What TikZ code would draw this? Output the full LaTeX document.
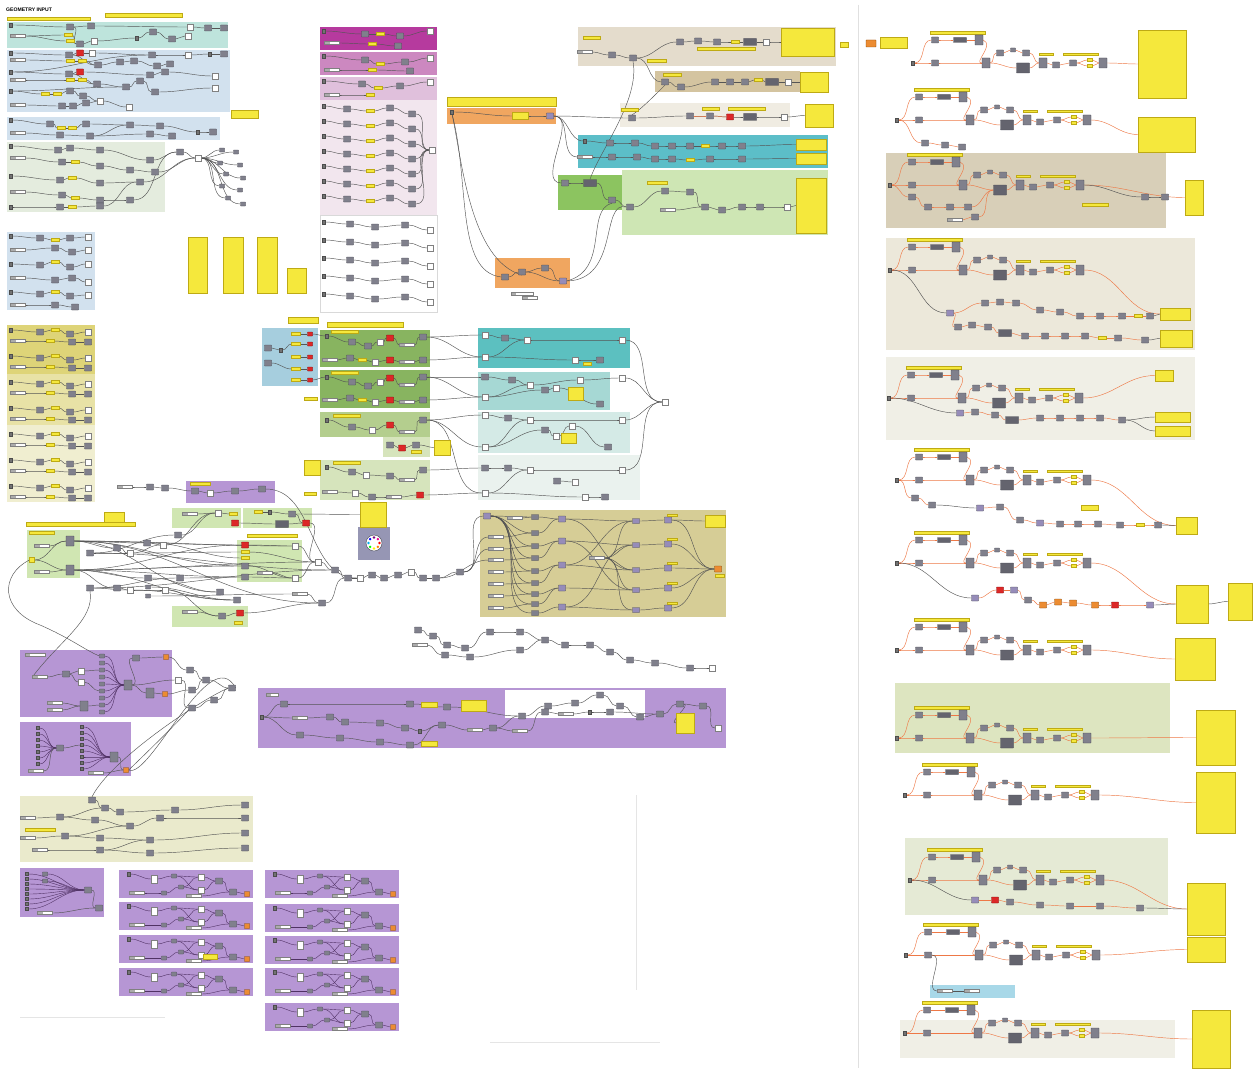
\documentclass[tikz,border=0pt]{standalone}
\usepackage{fontspec}
\usepackage{etoolbox}
\setmainfont{Liberation Sans}
\pgfdeclarelayer{grp}
\pgfdeclarelayer{wires}
\pgfsetlayers{grp,wires,main}
\definecolor{teal1}{RGB}{190,228,220}
\definecolor{blue1}{RGB}{210,225,238}
\definecolor{green0}{RGB}{228,236,222}
\definecolor{yel1}{RGB}{222,212,120}
\definecolor{yel2}{RGB}{232,226,166}
\definecolor{yel3}{RGB}{240,238,208}
\definecolor{mag1}{RGB}{182,58,158}
\definecolor{mag2}{RGB}{204,136,192}
\definecolor{mag3}{RGB}{224,192,220}
\definecolor{pink1}{RGB}{242,230,238}
\definecolor{orng}{RGB}{240,166,96}
\definecolor{tan1}{RGB}{228,220,204}
\definecolor{tan2}{RGB}{212,196,160}
\definecolor{tan3}{RGB}{240,236,226}
\definecolor{tealA}{RGB}{92,190,200}
\definecolor{greenA}{RGB}{140,196,96}
\definecolor{greenB}{RGB}{206,230,180}
\definecolor{blue2}{RGB}{166,206,222}
\definecolor{green2}{RGB}{136,180,96}
\definecolor{green3}{RGB}{180,206,142}
\definecolor{green4}{RGB}{214,228,188}
\definecolor{tealB}{RGB}{92,192,192}
\definecolor{tealC}{RGB}{166,216,212}
\definecolor{tealD}{RGB}{212,234,230}
\definecolor{tealE}{RGB}{234,242,238}
\definecolor{purp}{RGB}{182,150,212}
\definecolor{olv}{RGB}{214,205,150}
\definecolor{lgreen}{RGB}{208,230,178}
\definecolor{olv2}{RGB}{234,234,204}
\definecolor{rtan}{RGB}{216,207,184}
\definecolor{rtan2}{RGB}{236,232,218}
\definecolor{rgray}{RGB}{240,239,230}
\definecolor{rolv}{RGB}{221,229,192}
\definecolor{rolv2}{RGB}{229,234,213}
\definecolor{rblue}{RGB}{168,216,232}
\definecolor{yellowp}{RGB}{245,232,60}
\definecolor{panb}{RGB}{190,170,20}
\definecolor{compc}{RGB}{128,128,140}
\definecolor{compd}{RGB}{100,100,110}
\definecolor{compb}{RGB}{70,70,80}
\definecolor{wirec}{RGB}{85,85,85}
\definecolor{orwire}{RGB}{238,120,70}
\definecolor{redc}{RGB}{220,40,40}
\definecolor{orgc}{RGB}{236,140,50}
\definecolor{purc}{RGB}{150,140,185}
\definecolor{pwc}{RGB}{80,50,100}
\definecolor{gaugeg}{RGB}{150,150,180}
\tikzset{
 gcomp/.style={draw=compb,fill=compc,line width=0.3mm,minimum width=7mm,minimum height=6mm,inner sep=0pt,rounded corners=0.4mm},
 gsm/.style={gcomp,minimum width=5mm,minimum height=4mm},
 gcw/.style={gcomp,fill=compd,minimum width=13mm,minimum height=7mm},
 gtall/.style={gcomp,minimum width=8mm,minimum height=10mm},
 gpur/.style={gcomp,fill=purc},
 gred/.style={gcomp,fill=redc,draw=red!50!black},
 gorg/.style={gcomp,fill=orgc,draw=orange!50!black},
 gpan/.style={draw=panb,fill=yellowp,line width=0.2mm,minimum width=8mm,minimum height=3mm,inner sep=0pt},
 gwht/.style={draw=gray,fill=white,line width=0.3mm,minimum width=6mm,minimum height=6mm,inner sep=0pt},
 gdot/.style={draw=black!70,fill=black!55,minimum width=3mm,minimum height=4mm,inner sep=0pt},
 gsld/.style={draw=gray,fill=white,line width=0.3mm,minimum width=15mm,minimum height=3mm,inner sep=0pt,
   path picture={\fill[gray!65] (path picture bounding box.south west) rectangle ([xshift=5mm]path picture bounding box.north west);}},
 gbig/.style={draw=panb,fill=yellowp,line width=0.3mm,inner sep=0pt},
 gwire/.style={draw=wirec,line width=0.45mm},
 owire/.style={draw=orwire,line width=0.45mm},
 pwire/.style={draw=pwc,line width=0.4mm},
}
\newcommand\allwires{}
\newcommand\allgrps{}
\newcommand\dgrp[5]{\xappto\allgrps{\noexpand\fill[#5] (#1,#2) rectangle (#3,#4);}}
\newcommand\dwire[3][gwire]{\xappto\allwires{\noexpand\draw[#1] (#2.east) to[out=0,in=180] (#3.west);}}
\newcommand\dchain[3][gwire]{%
 \foreach \px/\py/\st [count=\ci] in {#3}{\node[\st] (#2-\ci) at (\px,\py) {};}%
 \foreach \px/\py/\st [count=\ci, remember=\ci as \cj (initially 0)] in {#3}{\ifnum\ci>1 \dwire[#1]{#2-\cj}{#2-\ci}\fi}%
}
\newcommand\dybox[6][gbig]{\pgfmathsetmacro\bw{#5-#3}\pgfmathsetmacro\bh{#6-#4}\node[#1,minimum width=\bw mm,minimum height=\bh mm] (#2) at ({(#3+#5)/2},{(#4+#6)/2}) {};}
\newcommand\dsec[4]{%
 \node[gpan,minimum width=55mm] (#1-t) at (#2+45,#3-30) {};
 \node[gdot] (#1-a) at (#2,#3) {};
 \node[gcomp] (#1-b) at (#2+22,#3-23) {};
 \node[gcw,minimum height=5mm] (#1-c) at (#2+47,#3-23) {};
 \node[gtall] (#1-d) at (#2+66,#3-23) {};
 \node[gcomp] (#1-e) at (#2+22,#3) {};
 \node[gtall] (#1-f) at (#2+73,#3) {};
 \node[gcomp] (#1-g) at (#2+87,#3-10) {};
 \node[gsm] (#1-h) at (#2+100,#3-13) {};
 \node[gcomp] (#1-i) at (#2+113,#3-10) {};
 \node[gcw,minimum height=10mm] (#1-j) at (#2+110,#3+5) {};
 \node[gtall] (#1-k) at (#2+130,#3) {};
 \node[gcomp] (#1-l) at (#2+143,#3+2) {};
 \node[gcomp] (#1-m) at (#2+160,#3) {};
 \node[gpan,minimum width=5mm] (#1-p) at (#2+177,#3-3) {};
 \node[gpan,minimum width=5mm] (#1-r) at (#2+177,#3+3) {};
 \node[gtall] (#1-q) at (#2+190,#3) {};
 \node[gpan,minimum width=14mm,minimum height=2.5mm] (#1-u) at (#2+133,#3-9) {};
 \node[gpan,minimum width=35mm,minimum height=2.5mm] (#1-v) at (#2+168,#3-9) {};
 \dwire[owire]{#1-a}{#1-b}\dwire[owire]{#1-a}{#1-e}\dwire[owire]{#1-b}{#1-c}\dwire[owire]{#1-c}{#1-d}
 \xappto\allwires{\noexpand\draw[owire] (#1-d.east) .. controls (#2+82,#3-18) and (#2+60,#3) .. (#1-f.west);}
 \dwire[owire]{#1-e}{#1-f}\dwire[owire]{#1-f}{#1-g}\dwire[owire]{#1-g}{#1-h}\dwire[owire]{#1-h}{#1-i}
 \dwire[owire]{#1-f}{#1-j}\dwire[owire]{#1-j}{#1-k}\dwire[owire]{#1-i}{#1-k}\dwire[owire]{#1-k}{#1-l}
 \dwire[owire]{#1-l}{#1-m}\dwire[owire]{#1-m}{#1-p}\dwire[owire]{#1-m}{#1-r}\dwire[owire]{#1-p}{#1-q}
 \dwire[owire]{#1-r}{#1-q}\dwire[owire]{#1-q}{#4}}
\newcommand\dstack[3]{%
 \xappto\allgrps{\noexpand\fill[purp] (#2,#3) rectangle (#2+134,#3+28);}
 \node[gdot] (#1-a) at (#2+10,#3+4) {};
 \node[gwht,minimum height=8mm] (#1-b) at (#2+35,#3+9) {};
 \node[gsm] (#1-c) at (#2+55,#3+6) {};
 \node[gwht] (#1-d) at (#2+82,#3+7) {};
 \node[gwht] (#1-e) at (#2+82,#3+20) {};
 \node[gcomp] (#1-f) at (#2+100,#3+11) {};
 \node[gsld] (#1-g) at (#2+18,#3+23) {};
 \node[gsm] (#1-h) at (#2+45,#3+23) {};
 \node[gsm] (#1-i) at (#2+62,#3+17) {};
 \node[gsld] (#1-j) at (#2+75,#3+26) {};
 \node[gcomp] (#1-k) at (#2+114,#3+22) {};
 \node[gorg,minimum width=5mm,minimum height=5mm] (#1-l) at (#2+128,#3+24) {};
 \dwire[pwire]{#1-a}{#1-b}\dwire[pwire]{#1-b}{#1-c}\dwire[pwire]{#1-c}{#1-d}\dwire[pwire]{#1-c}{#1-e}
 \dwire[pwire]{#1-i}{#1-d}\dwire[pwire]{#1-i}{#1-e}\dwire[pwire]{#1-d}{#1-f}\dwire[pwire]{#1-e}{#1-f}
 \dwire[pwire]{#1-g}{#1-h}\dwire[pwire]{#1-h}{#1-i}\dwire[pwire]{#1-f}{#1-k}\dwire[pwire]{#1-j}{#1-k}
 \dwire[pwire]{#1-k}{#1-l}}
\begin{document}
\begin{tikzpicture}[x=1mm,y=-1mm]
\useasboundingbox (0,0) rectangle (1257,1070);
\node[anchor=west,font=\bfseries\fontsize{14.5}{16}\selectfont] (title) at (5,10) {GEOMETRY INPUT};
% ================= LEFT COLUMN =================
\dybox{yt1}{7}{17}{90}{20}
\dybox{yt2}{105}{13}{182}{17}
\dgrp{7}{22}{228}{48}{teal1}
\dchain{c1}{11/25/gdot,70/27/gcomp,91/26/gcomp,190/27/gwht,208/28/gcomp,224/28/gcomp}
\dchain{c2}{18/36/gsld,68/35/gpan,80/44/gcomp,94/41/gwht,137/38/gdot,153/32/gcomp,172/39/gcomp,188/36/gwht}
\node[gpan] (c2x) at (70,41) {};
\dwire{c1-2}{c2-3}\dwire{c2-1}{c2x}
\dgrp{7}{50}{230}{112}{blue1}
\dchain{c3}{11/53/gdot,69/55/gcomp,80/53/gred,92/53/gwht,152/55/gcomp,188/55/gwht,210/54/gdot,224/54/gcomp}
\dchain{c4}{18/60/gsld,70/61/gpan,82/61/gpan,98/65/gcomp,120/62/gcomp,134/61/gcomp,157/66/gcomp,170/64/gcomp}
\dchain{c5}{11/72/gdot,69/74/gcomp,80/72/gred,150/75/gcomp,165/72/gcomp,215/76/gwht}
\dchain{c6}{18/80/gsld,70/80/gpan,82/80/gpan,97/84/gcomp,126/87/gcomp,140/81/gcomp,155/92/gcomp,215/88/gwht}
\dchain{c7}{11/91/gdot,45/94/gpan,57/94/gpan,70/91/gcomp,83/96/gcomp,100/101/gwht,129/107/gwht}
\dchain{c8}{18/105/gsld,62/106/gcomp,73/106/gcomp,86/103/gcomp}
\dwire{c5-1}{c3-5}\dwire{c7-1}{c6-5}\dwire{c3-2}{c4-4}\dwire{c5-2}{c6-4}\dwire{c8-4}{c7-6}
\dgrp{7}{117}{220}{140}{blue1}
\dchain{c9}{11/120/gdot,50/124/gcomp,61/128/gpan,72/128/gpan,86/124/gcomp,130/125/gcomp,160/126/gcomp,198/132/gdot,213/132/gcomp}
\dchain{c10}{18/133/gsld,60/135/gcomp,90/136/gcomp,150/134/gcomp,172/136/gcomp}
\dwire{c10-3}{c9-6}
\dybox{ysm1}{231}{110}{258}{118}
\dgrp{7}{142}{165}{212}{green0}
\dchain{c11}{11/146/gdot,58/150/gcomp,70/148/gcomp,100/150/gcomp,150/160/gcomp,180/152/gcomp,198/158/gwht}
\dchain{c12}{18/158/gsld,62/162/gcomp,75/162/gpan,100/166/gcomp,130/170/gcomp,155/172/gcomp}
\dchain{c13}{11/176/gdot,60/180/gcomp,72/178/gpan,100/183/gcomp,140/182/gcomp}
\dchain{c14}{18/192/gsld,62/195/gcomp,75/198/gpan,100/200/gcomp,130/200/gcomp}
\dchain{c15}{11/207/gdot,60/207/gcomp,72/207/gpan,100/206/gcomp}
\dwire{c12-6}{c11-7}\dwire{c13-5}{c11-7}\dwire{c14-5}{c11-6}\dwire{c15-4}{c13-5}
\foreach \xx/\yy [count=\k] in {222/150,236/152,220/163,240/165,226/174,243/178,222/186,240/190,228/198,243/204}{\node[gsm] (fn\k) at (\xx,\yy) {}; \dwire{c11-7}{fn\k}}
\dgrp{7}{232}{95}{310}{blue1}
\dchain{c16}{11/236/gdot,40/238/gcomp,55/240/gpan,70/238/gcomp,88/237/gwht}
\dchain{c17}{18/250/gsld,55/248/gcomp,72/252/gcomp,88/250/gwht}
\dchain{c18}{11/264/gdot,40/265/gcomp,55/262/gpan,70/267/gcomp,88/264/gwht}
\dchain{c19}{18/278/gsld,55/280/gcomp,72/278/gcomp,88/282/gwht}
\dchain{c20}{11/292/gdot,40/294/gcomp,55/292/gpan,70/296/gcomp,88/295/gwht}
\dchain{c21}{18/305/gsld,55/305/gcomp,75/307/gcomp}
\dgrp{7}{325}{95}{374}{yel1}
\dgrp{7}{374}{95}{425}{yel2}
\dgrp{7}{425}{95}{502}{yel3}
\foreach \yy [count=\k] in {330,356,382,408,434,460,486}{\dchain{ya\k}{11/\yy/gdot,40/\yy+2/gcomp,55/\yy/gpan,70/\yy+4/gcomp,88/\yy+2/gwht}\dchain{yb\k}{18/\yy+11/gsld,50/\yy+11/gpan,72/\yy+12/gcomp,88/\yy+12/gcomp}}
\dybox{y4a}{188}{237}{207}{293}
\dybox{y4b}{223}{237}{243}{293}
\dybox{y4c}{257}{237}{277}{293}
\dybox{y4d}{287}{268}{306}{293}
% ================= MAGENTA COLUMN =================
\dgrp{320}{27}{437}{50}{mag1}
\dgrp{320}{52}{437}{75}{mag2}
\dgrp{320}{77}{437}{100}{mag3}
\dgrp{320}{100}{437}{215}{pink1}
\xappto\allgrps{\noexpand\filldraw[fill=white,draw=black!15] (320,215) rectangle (437,312);}
\dchain{mg1a}{324/31/gdot,365/34/gcomp,380/34/gpan,400/36/gcomp,430/31/gwht}
\dchain{mg1b}{332/43/gsld,372/44/gpan,398/46/gcomp}
\dchain{mg2a}{324/56/gdot,365/60/gcomp,380/64/gpan,405/62/gcomp,430/58/gwht}
\dchain{mg2b}{332/70/gsld,372/70/gpan,410/71/gcomp}
\dchain{mg3a}{324/81/gdot,362/84/gcomp,378/88/gpan,400/86/gcomp,430/82/gwht}
\dchain{mg3b}{332/95/gsld,370/95/gpan}
\node[gwht] (pkh) at (432,150) {};
\foreach \yy [count=\k] in {106,121,136,151,166,181,196}{\dchain{pk\k}{324/\yy/gdot,347/\yy+3/gcomp,370/\yy+5/gpan,390/\yy+2/gcomp,412/\yy+8/gcomp}\dwire{pk\k-5}{pkh}}
\foreach \yy [count=\k] in {222,240,258,276,294}{\dchain{wk\k}{324/\yy/gdot,350/\yy+2/gcomp,375/\yy+5/gcomp,405/\yy+3/gcomp,430/\yy+8/gwht}}
% ================= ORANGE =================
\dybox{yo1}{447}{97}{556}{106}
\dgrp{447}{108}{556}{124}{orng}
\node[gdot] (o1a) at (452,112) {};
\node[gpan,minimum width=16mm,minimum height=7mm] (o1b) at (520,116) {};
\node[gpur] (o1c) at (550,116) {};
\dwire{o1a}{o1b}\dwire{o1b}{o1c}
\dgrp{495}{258}{570}{288}{orng}
\node[gcomp] (o2a) at (505,277) {};
\node[gcomp] (o2b) at (522,272) {};
\node[gcomp] (o2c) at (545,268) {};
\node[gpur] (o2d) at (563,281) {};
\node[gsld,minimum width=22mm] (o2e) at (522,294) {};
\node[gsld] (o2f) at (530,298) {};
\dwire{o2a}{o2b}\dwire{o2b}{o2c}\dwire{o2c}{o2d}\dwire{o2b}{o2d}
% ================= TOP MIDDLE =================
\dgrp{578}{27}{836}{66}{tan1}
\dgrp{655}{71}{800}{92}{tan2}
\dgrp{620}{103}{790}{127}{tan3}
\dgrp{578}{135}{828}{168}{tealA}
\dgrp{622}{170}{828}{235}{greenB}
\dgrp{558}{175}{622}{210}{greenA}
\dybox{yb1}{781}{28}{834}{56}
\dybox{yb2}{800}{72}{828}{92}
\dybox{yb3}{805}{104}{833}{127}
\dybox{yb4}{796}{139}{826}{150}
\dybox{yb5}{796}{153}{826}{164}
\dybox{yb6}{796}{178}{826}{233}
\dybox{yx1}{840}{42}{848}{47}
\dybox[gorg]{yx2}{866}{40}{876}{47}
\dybox{yx3}{880}{37}{907}{48}
\node[gpan,minimum width=17mm] (tmb1) at (592,38) {};
\node[gpan,minimum width=58mm] (tmb2) at (726,49) {};
\node[gpan,minimum width=19mm] (tmb3) at (657,61) {};
\dchain{tm1}{585/52/gsld,612/55/gcomp,633/58/gcomp,680/42/gcomp,698/41/gcomp,717/42/gcomp,735/42/gpan,750/42/gcw,766/42/gwht}
\dwire{tm1-9}{yb1}
\node[gpan,minimum width=18mm] (tmb4) at (672,75) {};
\dchain{tm2}{665/82/gcomp,681/87/gcomp,715/82/gcomp,730/82/gcomp,745/82/gcomp,758/80/gpan,772/82/gcw,788/82/gwht}
\dwire{tm2-8}{yb2}
\node[gpan,minimum width=17mm] (tmb5) at (630,110) {};
\node[gpan,minimum width=17mm] (tmb6) at (711,109) {};
\node[gpan,minimum width=37mm] (tmb7) at (747,109) {};
\dchain{tm3}{632/118/gcomp,690/116/gcomp,710/116/gcomp,730/117/gred,750/117/gcw,784/117/gwht}
\dwire[owire]{tm3-2}{tm3-3}\dwire[owire]{tm3-3}{tm3-4}
\dwire{tm3-6}{yb3}
\dchain{tm4}{585/141/gdot,610/143/gcomp,635/143/gcomp,655/146/gcomp,672/146/gcomp,690/146/gcomp,705/146/gpan,722/146/gcomp,742/146/gcomp}
\dwire{tm4-9}{yb4}
\dchain{tm5}{585/157/gsld,612/157/gcomp,637/157/gcomp,655/159/gcomp,672/159/gcomp,690/160/gpan,710/159/gcomp,742/159/gcomp}
\dwire{tm5-8}{yb5}
\dchain{tm6}{565/183/gcomp,590/183/gcw,612/200/gcomp}
\node[gpan,minimum width=20mm] (tmb8) at (657,183) {};
\dchain{tm7}{630/207/gcomp,665/191/gcomp,690/192/gcomp,705/207/gcomp,722/210/gcomp,742/207/gcomp,760/207/gcomp,787/207/gwht}
\node[gsld] (tm7s) at (668,210) {};
\dwire{tm7-8}{yb6}\dwire{tm7s}{tm7-4}\dwire{tm6-3}{tm7-1}
\dwire{tm1-3}{tm2-1}\dwire{o1c}{tm3-1}\dwire{o1c}{tm4-1}\dwire{o1c}{tm5-1}\dwire{o1c}{tm6-1}
% ================= MIDDLE =================
\dybox{ym1}{288}{317}{318}{323}
\dybox{ym2}{327}{322}{403}{327}
\dgrp{262}{328}{318}{386}{blue2}
\node[gcomp] (lb1) at (268,348) {};
\node[gcomp] (lb2) at (268,363) {};
\node[gdot] (lb0) at (281,350) {};
\foreach \yy [count=\k] in {334,344,357,369,380}{\node[gpan,minimum width=9mm] (lbp\k) at (296,\yy) {}; \node[gred,minimum width=5mm,minimum height=4mm] (lbr\k) at (310,\yy) {}; \dwire{lbp\k}{lbr\k}}
\dwire{lb1}{lb0}\dwire{lb0}{lbp2}\dwire{lb2}{lbp4}
\node[gpan,minimum width=13mm] (ym3) at (311,399) {};
\dgrp{320}{330}{430}{367}{green2}
\dgrp{320}{370}{430}{408}{green2}
\dgrp{320}{412}{430}{437}{green3}
\dgrp{383}{437}{430}{457}{green4}
\dgrp{320}{460}{430}{500}{green4}
\node[gpan,minimum width=27mm] (g1t) at (345,332) {};
\dchain{g1a}{327/336/gdot,352/342/gcomp,368/346/gcomp,380/342/gwht,390/338/gred,407/345/gsld,423/337/gcomp}
\dchain{g1b}{330/360/gsld,350/358/gcomp,362/360/gpan,375/362/gwht,390/360/gred,407/362/gsld,423/360/gcomp}
\node[gpan,minimum width=27mm] (g2t) at (345,373) {};
\dchain{g2a}{327/377/gdot,352/382/gcomp,368/386/gcomp,380/382/gwht,390/378/gred,407/385/gsld,423/377/gcomp}
\dchain{g2b}{330/400/gsld,350/398/gcomp,362/400/gpan,375/402/gwht,390/400/gred,407/402/gsld,423/400/gcomp}
\node[gpan,minimum width=27mm] (g3t) at (347,416) {};
\dchain{g3}{327/420/gdot,352/427/gcomp,372/430/gwht,390/425/gred,407/432/gsld,423/420/gcomp}
\dchain{g5}{390/445/gcomp,402/448/gred,416/445/gcomp}
\node[gpan,minimum width=10mm] (g5p) at (416,452) {};
\dybox{yg5}{434}{440}{450}{455}
\dwire{g5-3}{yg5}
\node[gpan,minimum width=27mm] (g4t) at (347,463) {};
\dchain{g4a}{327/467/gdot,352/472/gcomp,366/475/gwht,390/476/gcomp,407/480/gsld,423/470/gcomp}
\dchain{g4b}{330/492/gsld,355/493/gwht,372/497/gcomp,394/497/gsld,420/495/gred}
\dybox{ym4}{304}{460}{320}{475}
\node[gpan,minimum width=12mm] (ym5) at (310,494) {};
\dwire{lbr1}{g1a-1}\dwire{lbr5}{g2a-1}
\dgrp{478}{328}{630}{368}{tealB}
\dgrp{478}{372}{610}{410}{tealC}
\dgrp{478}{412}{630}{453}{tealD}
\dgrp{478}{455}{640}{500}{tealE}
\dchain{tB1}{485/335/gwht,505/338/gcomp,527/340/gwht,622/340/gwht}
\dchain{tB2}{485/357/gwht,575/360/gwht,600/360/gcomp}
\node[gpan] (tBp) at (587,364) {};
\dchain{tC1}{485/377/gcomp,512/380/gcomp,530/385/gwht,580/380/gwht,622/378/gwht}
\dchain{tC2}{485/397/gwht,545/390/gcomp,556/388/gwht,600/404/gcomp}
\dybox{ytc}{568}{387}{583}{400}
\dchain{tD1}{485/415/gwht,508/418/gcomp,530/420/gwht,622/420/gwht}
\dchain{tD2}{485/447/gwht,545/430/gcomp,556/436/gwht,572/426/gwht,608/447/gcomp}
\dybox{ytd}{561}{433}{576}{443}
\dchain{tE1}{485/468/gcomp,508/468/gcomp,530/470/gwht,622/470/gwht}
\dchain{tE2}{485/493/gwht,585/497/gwht,605/497/gcomp}
\dchain{tE3}{557/481/gcomp,575/482/gwht}
\dwire{tB2-1}{tB1-3}\dwire{tC2-1}{tC1-3}\dwire{tD2-1}{tD1-3}\dwire{tE2-1}{tE1-3}
\node[gwht] (thub) at (665,402) {};
\foreach \n in {tB1-4,tC1-5,tD1-4,tE1-4}{\dwire{\n}{thub}}
\dwire{g1a-7}{tB1-1}\dwire{g1a-7}{tB2-1}\dwire{g1b-7}{tB2-1}
\dwire{g2a-7}{tC1-1}\dwire{g2b-7}{tC2-1}\dwire{g2a-7}{tC2-1}
\dwire{g3-6}{tD1-1}\dwire{g3-6}{tD2-1}
\dwire{g4a-6}{tE1-1}\dwire{g4b-5}{tE2-1}\dwire{g3-6}{tE2-1}
\dgrp{186}{481}{275}{503}{purp}
\node[gpan,minimum width=20mm] (ptp) at (200,484) {};
\dchain{pt}{125/487/gsld,150/487/gcomp,165/488/gcomp,195/491/gcomp,210/493/gwht,235/491/gcomp,262/489/gcomp}
% ================= TANGLE =================
\dybox{yh1}{104}{512}{124}{523}
\dybox{yh2}{26}{522}{135}{526}
\dgrp{27}{530}{80}{578}{lgreen}
\dgrp{172}{508}{241}{528}{lgreen}
\dgrp{243}{508}{312}{528}{lgreen}
\dgrp{237}{540}{302}{582}{lgreen}
\dgrp{172}{606}{248}{627}{lgreen}
\dgrp{358}{527}{390}{560}{gaugeg}
\node[gpan,minimum width=25mm] (tp0) at (42,533) {};
\node[gtall] (t1) at (70,541) {};
\node[gtall] (t2) at (70,570) {};
\node[gsld] (s1) at (42,546) {};
\node[gsld] (s2) at (42,572) {};
\node[gpan,minimum width=5mm,minimum height=5mm] (yd) at (32,560) {};
\dwire{s1}{t1}\dwire{s2}{t2}\dwire{yd}{t1}\dwire{yd}{t2}
\node[gcomp] (t3) at (90,553) {};
\node[gcomp] (t4) at (90,588) {};
\node[gcomp] (t5) at (117,548) {};
\node[gwht] (t6) at (130,553) {};
\node[gcomp] (t7) at (117,588) {};
\node[gwht] (t8) at (130,590) {};
\node[gcomp] (t9) at (147,543) {};
\node[gcomp] (t10) at (148,578) {};
\node[gsm] (t11) at (148,587) {};
\node[gsm] (t12) at (148,596) {};
\node[gwht] (t13) at (163,545) {};
\node[gwht] (t14) at (165,590) {};
\node[gcomp] (t15) at (178,535) {};
\node[gcomp] (t16) at (180,578) {};
\node[gcomp] (t17) at (220,592) {};
\node[gcomp] (t18) at (237,600) {};
\node[gpan,minimum width=50mm] (tp1) at (272,536) {};
\node[gred] (t19) at (245,545) {};
\node[gpan] (t20) at (245,552) {};
\node[gpan] (t21) at (245,558) {};
\node[gcomp] (t22) at (245,566) {};
\node[gcomp] (t23) at (245,577) {};
\node[gwht] (t24) at (295,546) {};
\node[gwht] (t25) at (295,578) {};
\node[gsld] (t26) at (265,573) {};
\node[gwht] (t27) at (318,562) {};
\node[gcomp] (t29) at (322,603) {};
\node[gsld] (t30) at (300,594) {};
\node[gsld] (t31) at (190,514) {};
\node[gwht] (t32) at (218,513) {};
\node[gpan] (t33) at (233,514) {};
\node[gred] (t34) at (235,523) {};
\node[gpan] (t35) at (258,512) {};
\node[gdot] (t36) at (270,512) {};
\node[gcomp] (t37) at (292,514) {};
\node[gcw] (t38) at (282,524) {};
\node[gred] (t39) at (306,523) {};
\node[gsld] (t40) at (190,612) {};
\node[gcomp] (t41) at (222,616) {};
\node[gred] (t42) at (240,613) {};
\node[gpan] (t43) at (238,623) {};
\dchain{tq}{335/570/gcomp,348/578/gcomp,360/578/gwht,372/575/gcomp,384/578/gcomp,398/575/gcomp,411/572/gwht,423/578/gcomp,436/578/gcomp,460/572/gcomp}
\dybox{yg}{360}{502}{386}{527}
\node[circle,draw=compb,fill=white,minimum size=16mm,inner sep=0pt,line width=0.4mm] (gauge) at (374,543) {};
\foreach \a/\c in {0/red,45/orange,90/yellow,135/green,180/cyan,225/blue,270/violet,315/magenta}{\fill[\c] (gauge.center) ++(\a:5.5) circle (1.3);}
\dwire{t1}{t5}\dwire{t1}{t9}\dwire{t1}{t19}\dwire{t1}{t24}\dwire{t1}{t22}\dwire{t1}{t17}\dwire{t1}{t29}
\dwire{t2}{t7}\dwire{t2}{t10}\dwire{t2}{t23}\dwire{t2}{t22}\dwire{t2}{t27}\dwire{t2}{t19}\dwire{t2}{t18}
\dwire{t3}{t6}\dwire{t3}{t15}\dwire{t4}{t8}\dwire{t4}{t16}\dwire{t5}{t6}\dwire{t6}{t13}\dwire{t6}{t20}
\dwire{t7}{t8}\dwire{t8}{t14}\dwire{t8}{t18}\dwire{t9}{t13}\dwire{t9}{t21}\dwire{t10}{t17}\dwire{t11}{t18}
\dwire{t12}{t30}\dwire{t13}{t32}\dwire{t15}{t32}\dwire{t16}{t23}\dwire{t14}{t41}\dwire{t19}{t24}\dwire{t20}{t27}
\dwire{t22}{t25}\dwire{t23}{t25}\dwire{t24}{t27}\dwire{t25}{t27}\dwire{t26}{t25}\dwire{t27}{tq-1}\dwire{t30}{t29}
\dwire{t29}{tq-2}\dwire{t31}{t32}\dwire{t32}{t33}\dwire{t35}{t36}\dwire{t36}{t37}\dwire{t37}{t39}\dwire{t38}{t39}
\dwire{t39}{t27}\dwire{t40}{t41}\dwire{t41}{t42}\dwire{t42}{t29}\dwire{t34}{t38}\dwire{t3}{tq-1}\dwire{t4}{tq-1}
\dwire{pt-7}{tq-3}\dwire{t37}{yg}
% ================= OLIVE BIG =================
\dgrp{480}{510}{726}{617}{olv}
\node[gpur] (oh) at (487,516) {};
\node[gsld] (o0) at (515,518) {};
\foreach \yy [count=\k] in {537,549,560,572,584,596,608}{\node[gsld] (os\k) at (496,\yy) {};}
\foreach \yy [count=\k] in {517,533,546,558,571,583,594,604,613}{\node[gcomp,minimum height=5mm] (oc\k) at (535,\yy) {}; \dwire{oh}{oc\k}}
\foreach \yy [count=\k] in {519,541,565,588,607}{\node[gpur] (od\k) at (562,\yy) {};}
\node[gsld] (om) at (597,558) {};
\foreach \yy [count=\k] in {521,545,570,590,610}{\node[gpur,minimum height=5mm] (oe\k) at (636,\yy) {}; \dwire{od\k}{oe\k}\dwire{om}{oe\k}}
\foreach \yy [count=\k] in {520,544,568,588,608}{\node[gpur] (of\k) at (668,\yy) {}; \node[gpan,minimum width=10mm,minimum height=2.5mm] (ofp\k) at (672,\yy-5) {}; \dwire{oe\k}{of\k}}
\node[gorg] (oo) at (718,569) {};
\node[gpan,minimum width=9mm] (oop) at (720,576) {};
\dybox{ob}{705}{515}{725}{527}
\foreach \k in {1,...,5}{\dwire{of\k}{oo}}
\dwire{of1}{ob}
\dwire{o0}{oc1}\dwire{os1}{oc2}\dwire{os2}{oc3}\dwire{os3}{oc4}\dwire{os4}{oc5}\dwire{os5}{oc6}\dwire{os6}{oc7}\dwire{os7}{oc8}
\dwire{oc1}{od1}\dwire{oc2}{od1}\dwire{oc3}{od2}\dwire{oc4}{od2}\dwire{oc5}{od3}\dwire{oc6}{od3}\dwire{oc7}{od4}\dwire{oc8}{od4}\dwire{oc9}{od5}
\dwire{od1}{oe3}\dwire{od2}{oe4}\dwire{od5}{oe2}\dwire{od3}{oe1}
\dwire{tq-10}{oh}\dwire{tq-10}{os1}\dwire{tq-10}{os2}\dwire{tq-9}{os3}
\dchain{uo}{418/630/gcomp,433/636/gcomp,447/645/gcomp,465/648/gcomp,490/632/gcomp,520/632/gcomp,545/640/gcomp,565/645/gcomp,590/645/gcomp,610/652/gcomp,630/660/gcomp,655/663/gcomp,690/668/gcomp,712/668/gwht}
\dchain{uo2}{420/645/gsld,445/655/gcomp,470/657/gcomp,520/650/gcomp}
\dwire{uo2-4}{uo-7}
% ================= LOWER PURPLE =================
\dgrp{20}{650}{172}{717}{purp}
\node[gsld,minimum width=20mm] (pa0) at (35,655) {};
\node[gsld] (pas1) at (40,677) {};
\node[gcomp] (pac1) at (66,674) {};
\node[gwht] (paw1) at (81,671) {};
\node[gwht] (paw2) at (81,682) {};
\node[gtall] (pah) at (128,685) {};
\foreach \yy [count=\k] in {656,663,670,677,684,691,698,705,712}{\node[gsm] (pak\k) at (102,\yy) {}; \dwire[pwire]{pak\k}{pah}}
\node[gcomp] (pac2) at (136,658) {};
\node[gorg,minimum width=5mm,minimum height=5mm] (pac3) at (166,657) {};
\node[gtall] (pac4) at (150,693) {};
\node[gorg,minimum width=5mm,minimum height=5mm] (pac5) at (165,694) {};
\node[gsld] (pas2) at (55,703) {};
\node[gsld] (pas3) at (55,710) {};
\node[gtall] (pac6) at (84,706) {};
\dwire{pas1}{pac1}\dwire{pac1}{paw1}\dwire{pac1}{paw2}\dwire{paw1}{pak3}\dwire{paw2}{pak6}\dwire{pas2}{pac6}\dwire{pas3}{pac6}\dwire{pac6}{pak8}
\dwire{pah}{pac2}\dwire{pah}{pac4}\dwire{pac2}{pac3}\dwire{pac4}{pac5}
\node[gcomp] (po1) at (190,670) {};
\node[gcomp] (po2) at (192,690) {};
\node[gcomp] (po3) at (206,680) {};
\node[gcomp] (po4) at (214,700) {};
\node[gcomp] (po5) at (232,688) {};
\node[gcomp] (po6) at (192,708) {};
\node[gwht] (po7) at (178,680) {};
\dwire{pac3}{po1}\dwire{pac5}{po2}\dwire{po1}{po3}\dwire{po2}{po3}\dwire{po3}{po5}\dwire{po4}{po5}\dwire{po6}{po4}\dwire{po7}{po6}\dwire{pah}{po7}
\dgrp{20}{722}{131}{776}{purp}
\node[gcomp] (pbh1) at (60,748) {};
\foreach \yy [count=\k] in {728,734,740,746,752,758,764}{\node[gdot,minimum height=3mm] (pbk\k) at (38,\yy) {}; \dwire[pwire]{pbk\k}{pbh1}}
\node[gtall] (pbh2) at (114,757) {};
\foreach \yy [count=\k] in {727,733,739,745,751,757,763,769}{\node[gdot,minimum height=3mm] (pbm\k) at (82,\yy) {}; \dwire[pwire]{pbm\k}{pbh2}}
\dwire{pbh1}{pbm4}
\node[gorg,minimum width=5mm,minimum height=5mm] (pbo) at (126,770) {};
\node[gsld] (pbs1) at (36,771) {};
\node[gsld] (pbs2) at (96,773) {};
\dwire{pbh2}{pbo}\dwire{pbs2}{pbo}\dwire{pbs1}{pbh1}
% long purple
\dgrp{258}{688}{726}{748}{purp}
\dgrp{505}{690}{645}{718}{white}
\dybox{ylp1}{421}{702}{437}{707}
\dybox{ylp2}{461}{700}{486}{711}
\dybox{ylp3}{421}{741}{437}{746}
\dybox{ylp4}{676}{713}{694}{733}
\node[gsld,minimum width=12mm] (lpt) at (272,695) {};
\dchain{lp1}{262/717/gdot,284/704/gcomp,410/704/gcomp,447/707/gcomp,522/716/gcomp,548/706/gcomp,575/703/gcomp,600/695/gcomp,620/706/gcomp,640/717/gcomp,660/714/gcomp,680/704/gcomp,703/706/gcomp,718/728/gwht}
\dchain{lp2}{300/718/gsld,330/717/gcomp,345/722/gcomp,380/723/gcomp,405/728/gcomp,420/731/gdot,442/725/gcomp,475/730/gsld,493/728/gcomp,520/731/gsld,545/712/gcomp,566/714/gsld,590/712/gdot,610/712/gcomp}
\dchain{lp3}{300/735/gcomp,340/738/gcomp,380/742/gcomp,410/745/gcomp}
\dwire{lp1-1}{lp2-1}\dwire{lp1-1}{lp3-1}\dwire{lp3-4}{lp2-7}\dwire{lp2-14}{lp1-11}\dwire{lp2-9}{lp1-5}\dwire{lp1-12}{ylp4}
% olive2
\dgrp{20}{796}{253}{862}{olv2}
\node[gpan,minimum width=30mm] (olp) at (40,830) {};
\dchain{ol4}{92/800/gcomp,105/808/gcomp,120/812/gcomp,175/810/gcomp,245/805/gcomp}
\dchain{ol1}{28/818/gsld,60/817/gcomp,95/820/gcomp,130/826/gcomp,160/818/gcomp,245/818/gcomp}
\dchain{ol2}{28/838/gsld,65/836/gcomp,100/838/gcomp,150/840/gcomp,245/833/gcomp}
\dchain{ol3}{40/850/gsld,100/850/gcomp,150/853/gcomp,245/848/gcomp}
\dwire{ol1-2}{ol4-2}\dwire{ol2-2}{ol1-4}\dwire{ol3-2}{ol2-4}
\dgrp{20}{868}{104}{917}{purp}
\node[gcomp] (pch) at (88,890) {};
\foreach \yy [count=\k] in {874,879,884,889,894,899,904,909}{\node[gdot,minimum height=3mm] (pck\k) at (27,\yy) {}; \dwire[pwire]{pck\k}{pch}}
\node[gsm] (pc2) at (45,874) {};
\node[gsm] (pc3) at (45,881) {};
\dwire[pwire]{pc2}{pch}\dwire[pwire]{pc3}{pch}
\node[gcomp] (pco) at (99,908) {};
\node[gsld] (pcs) at (45,913) {};
\dwire{pcs}{pco}\dwire{pch}{pco}
\dstack{sa}{119}{870}
\dstack{sb}{119}{902}
\dstack{sc}{119}{935}
\dstack{sd}{119}{968}
\node[gpan,minimum width=14mm,minimum height=5mm] (scp) at (210,957) {};
\dstack{se}{265}{870}
\dstack{sf}{265}{904}
\dstack{sg}{265}{936}
\dstack{sh}{265}{968}
\dstack{si}{265}{1003}
% ================= RIGHT COLUMN =================
\dgrp{886}{153}{1166}{228}{rtan}
\dgrp{886}{238}{1195}{350}{rtan2}
\dgrp{886}{357}{1195}{440}{rgray}
\dgrp{895}{683}{1170}{753}{rolv}
\dgrp{905}{838}{1168}{915}{rolv2}
\dgrp{930}{985}{1015}{998}{rblue}
\dgrp{900}{1020}{1175}{1058}{rgray}
\dybox{yr1}{1138}{30}{1186}{98}
\dybox{yr2}{1138}{117}{1195}{152}
\dybox{yr3}{1185}{180}{1203}{215}
\dybox{yr4}{1160}{308}{1190}{320}
\dybox{yr5}{1160}{330}{1192}{347}
\dybox{yr6}{1155}{370}{1173}{381}
\dybox{yr7}{1155}{412}{1190}{422}
\dybox{yr8}{1155}{426}{1190}{436}
\dybox{yr9}{1176}{517}{1197}{534}
\dybox{yr10}{1176}{585}{1208}{623}
\dybox{yr11}{1228}{583}{1252}{620}
\dybox{yr12}{1175}{638}{1215}{680}
\dybox{yr13}{1196}{710}{1235}{765}
\dybox{yr14}{1196}{772}{1235}{833}
\dybox{yr15}{1187}{883}{1225}{935}
\dybox{yr16}{1187}{937}{1225}{962}
\dybox{yr17}{1192}{1010}{1230}{1068}
\dsec{s1}{913}{63}{yr1}
\dsec{s2}{897}{120}{yr2}
\dchain[owire]{s2x}{925/143/gcomp,945/145/gcomp,962/147/gcomp}
\dwire[owire]{s2-a}{s2x-1}
\dsec{s3}{890}{185}{yr3}
\dchain[owire]{s3x}{912/197/gcomp,928/207/gcomp,950/207/gcomp,968/207/gcomp}
\dchain[owire]{s3z}{955/220/gsld,975/217/gcomp}
\dwire[owire]{s3-a}{s3x-1}\dwire[owire]{s3x-4}{s3-j}\dwire[owire]{s3z-2}{s3-j}
\node[gpan,minimum width=26mm] (s3p) at (1095,205) {};
\dchain{s3y}{1145/197/gcomp,1165/197/gcomp}
\dwire{s3-q}{s3y-1}
\dsec{s4}{890}{270}{yr4}
\dchain[owire]{s4x}{950/313/gpur,985/303/gcomp,1000/302/gcomp,1016/303/gcomp,1040/310/gcomp,1060/312/gcomp,1080/316/gcomp,1100/316/gcomp,1122/316/gcomp,1138/316/gpan,1150/316/gcomp}
\dchain[owire]{s4y}{958/327/gcomp,972/325/gcomp,988/327/gcomp,1005/333/gcw,1025/336/gcomp,1045/336/gcomp,1065/336/gcomp,1085/336/gcomp,1102/338/gpan,1118/338/gcomp,1145/340/gcomp}
\dwire{s4-a}{s4x-1}\dwire[owire]{s4x-1}{s4y-1}\dwire{s4x-11}{yr4}\dwire{s4y-11}{yr5}
\dsec{s5}{889}{398}{yr6}
\dchain[owire]{s5x}{960/413/gpur,975/412/gcomp,995/415/gcomp,1012/420/gcw,1040/418/gcomp,1060/418/gcomp,1080/418/gcomp,1100/418/gcomp,1122/420/gcomp}
\dwire{s5-a}{s5x-1}\dwire{s5x-9}{yr7}\dwire{s5x-9}{yr8}
\dsec{s6}{897}{480}{yr9}
\dchain[owire]{s6x}{915/498/gcomp,932/505/gcomp}
\dwire[owire]{s6-a}{s6x-1}
\node[gpan,minimum width=17mm,minimum height=5mm] (s6n) at (1090,508) {};
\dchain[owire]{s6y}{980/508/gpur,1000/507/gcomp,1020/520/gcomp,1040/523/gpur,1060/524/gcomp,1078/524/gcomp,1098/524/gcomp,1120/525/gcomp,1140/525/gpan,1158/525/gcomp}
\dwire{s6x-2}{s6y-1}\dwire{s6y-10}{yr9}
\dsec{s7}{897}{563}{yr10}
\dchain[owire]{s7x}{975/598/gpur,1000/590/gred,1014/590/gpur,1028/600/gcomp,1043/605/gorg,1058/602/gorg,1073/603/gorg,1095/605/gorg,1115/605/gred,1150/605/gpur}
\dwire{s7-a}{s7x-1}\dwire{s7x-10}{yr10}\dwire{yr10}{yr11}
\dsec{s8}{897}{650}{yr12}
\dsec{s9}{897}{738}{yr13}
\dsec{s10}{905}{795}{yr14}
\dsec{s11}{910}{880}{yr15}
\dchain[owire]{s11x}{975/900/gpur,995/900/gred,1010/902/gcomp,1040/905/gcomp,1070/906/gcomp,1100/906/gcomp,1140/908/gcomp}
\dwire{s11-a}{s11x-1}\dwire{s11x-7}{yr15}
\dsec{s12}{906}{955}{yr16}
\dchain{s12x}{945/991/gsld,972/991/gsld}
\dwire{s12-e}{s12x-1}
\dsec{s13}{905}{1033}{yr17}
% ================= LAYERS =================
\begin{pgfonlayer}{grp}
\fill[white] (0,0) rectangle (1257,1070);
\draw[black!12,line width=0.3mm] (858,5) -- (858,1068);
\draw[black!10,line width=0.3mm] (20,1017) -- (165,1017);
\draw[black!10,line width=0.3mm] (636,795) -- (636,990);
\draw[black!10,line width=0.3mm] (490,1042) -- (660,1042);
\allgrps
\end{pgfonlayer}
\begin{pgfonlayer}{wires}
\allwires
\draw[gwire] (tm1-3.south) .. controls (640,100) and (600,150) .. (tm6-2.north);
\draw[gwire] (o1a.south) .. controls (470,180) and (455,272) .. (o2a.west);
\draw[gwire] (o1a.south) .. controls (462,160) and (470,260) .. (o2b.south);
\draw[gwire] (o2d.east) .. controls (620,280) and (600,200) .. (tm7-1.west);
\draw[gwire] (o2d.east) .. controls (610,270) and (585,210) .. (tm6-3.south);
\draw[gwire] (tm2-1.south) .. controls (650,100) and (640,110) .. (tm3-1.north);
\draw[gwire] (yd.west) .. controls (0,575) and (0,610) .. (40,625) .. controls (70,638) and (85,650) .. (pak1.west);
\draw[gwire] (t4.south) .. controls (95,620) and (60,640) .. (pas1.west);
\draw[gwire] (pbo.east) .. controls (160,740) and (200,700) .. (po6.west);
\draw[gwire] (pbo.east) .. controls (150,780) and (210,640) .. (po5.east);
\draw[gwire] (ol4-1.north) .. controls (110,760) and (200,700) .. (po5.west);
\end{pgfonlayer}
\end{tikzpicture}
\end{document}
